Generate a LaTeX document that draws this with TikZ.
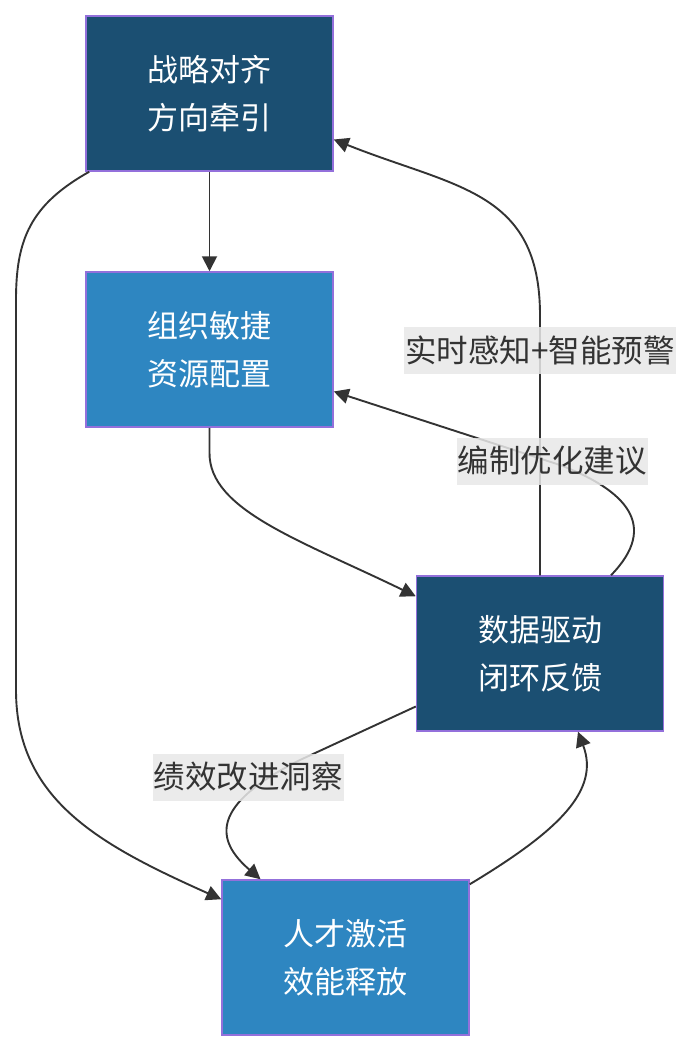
\documentclass[tikz,border=0pt]{standalone}
\usepackage{fontspec}
\newfontfamily\cjk{Noto Sans CJK SC}
\usepackage{tikz}
\usetikzlibrary{arrows.meta,positioning}
\definecolor{deepblue}{HTML}{1B4F72}
\definecolor{midblue}{HTML}{2E86C1}
\definecolor{boxedge}{HTML}{9370DB}
\definecolor{linegray}{HTML}{333333}
\definecolor{labelbg}{HTML}{E8E8E8}

\begin{document}
\begin{tikzpicture}[x=1pt, y=-1pt,
    stagebox/.style={draw=boxedge, line width=1.5pt, minimum width=247pt, minimum height=155pt,
        inner sep=0pt, align=center, text=white, font=\cjk\fontsize{31}{48}\selectfont},
    darkstage/.style={stagebox, fill=deepblue},
    lightstage/.style={stagebox, fill=midblue},
    flow/.style={draw=linegray, line width=1.9pt, -{Triangle[length=15pt, width=15pt]}},
    flowlabel/.style={fill=labelbg, fill opacity=0.85, text opacity=1, text=linegray,
        inner xsep=1pt, minimum height=47pt, font=\cjk\fontsize{31.5}{36}\selectfont}]
\useasboundingbox (0,0) rectangle (692,1052);
% Stages
\node[darkstage] (strat) at (209.5,93.5) {战略对齐\\方向牵引};
\node[lightstage] (org) at (209.5,349.5) {组织敏捷\\资源配置};
\node[darkstage] (data) at (540,653.5) {数据驱动\\闭环反馈};
\node[lightstage] (talent) at (345.5,957.5) {人才激活\\效能释放};
% Connectors
\draw[flow] (strat.south) -- (org.north);
\draw[flow] (org.south) -- ++(0,25) .. controls (209,510) and (300,540) .. ([yshift=-21pt]data.north west);
\draw[flow] (data.north) -- ++(0,-260) .. controls (540,190) and (455,188) .. ([yshift=-46pt]strat.east);
\draw[flow] ([xshift=71pt]data.north) .. controls (660,525) and (625,490) .. (560,465) -- ([yshift=-42pt]org.east);
\draw[flow] ([yshift=-53pt]data.west) -- (300,760) .. controls (210,805) and (215,840) .. ([xshift=-85pt]talent.north);
\draw[flow] ([yshift=-5pt]talent.north east) .. controls (560,830) and (600,790) .. ([xshift=38pt]data.south);
\draw[flow] ([xshift=4pt]strat.south west) .. controls (30,205) and (16,240) .. (16,300) -- (16,690)
    .. controls (16,800) and (100,845) .. ([yshift=-20pt]talent.north west);
% Labels
\node[flowlabel] (sense) at (540,350) {实时感知+智能预警};
\node[flowlabel] (staff) at (552,461) {编制优化建议};
\node[flowlabel] (perf) at (248,777) {绩效改进洞察};
\end{tikzpicture}
\end{document}
